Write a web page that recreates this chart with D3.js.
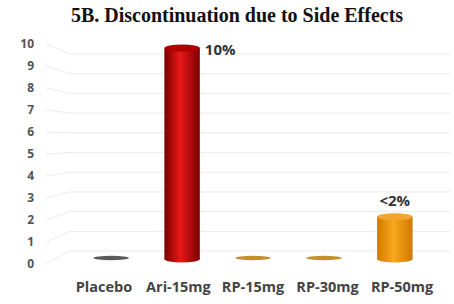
<!DOCTYPE html>
<html>
<head>
<meta charset="utf-8">
<script src="https://cdn.jsdelivr.net/npm/d3@7"></script>
<style>
  body { margin: 0; background: #fff; }
  svg { display: block; }
</style>
</head>
<body>
<div id="chart"></div>
<script>
// data
var groups = ["Placebo", "Ari-15mg", "RP-15mg", "RP-30mg", "RP-50mg"];
var rates = [0, 10, 0, 0, 2];
var barLabels = ["", "10%", "", "", "<2%"];
var yTicks = [0, 1, 2, 3, 4, 5, 6, 7, 8, 9, 10];

var w = 454, h = 304;

// colour sets per bar: edge, middle, top cap, flat marker
var palette = [
  {edge: "#555", mid: "#888", top: "#666", flat: "#5a5a5a"},
  {edge: "#7a0000", mid: "#e81818", top: "#b00000", flat: "#b00000"},
  {edge: "#b8860b", mid: "#f0b030", top: "#d9962a", flat: "#c49028"},
  {edge: "#b8860b", mid: "#f0b030", top: "#d9962a", flat: "#c49028"},
  {edge: "#d07a00", mid: "#f7a81c", top: "#f2a530", flat: "#d08a10"}
];

// one record per bar, built from the arrays above
var rows = groups.map(function(g, i) {
  return {group: g, value: rates[i], label: barLabels[i], idx: i};
});

var svg = d3.select("#chart").append("svg")
  .attr("width", w)
  .attr("height", h);

var defs = svg.append("defs");
palette.forEach(function(p, i) {
  var g = defs.append("linearGradient")
    .attr("id", "cyl" + i)
    .attr("x1", "0%").attr("x2", "100%")
    .attr("y1", "0%").attr("y2", "0%");
  g.append("stop").attr("offset", "0%").attr("stop-color", p.edge);
  g.append("stop").attr("offset", "45%").attr("stop-color", p.mid);
  g.append("stop").attr("offset", "100%").attr("stop-color", p.edge);
});

//title
svg.append("text")
  .attr("x", 237)
  .attr("y", 22)
  .attr("text-anchor", "middle")
  .attr("font-family", "Liberation Serif, serif")
  .attr("font-weight", "bold")
  .attr("font-size", "20px")
  .attr("fill", "#111")
  .text("5B. Discontinuation due to Side Effects");

// scales: label column, back wall, front (bars)
var yLab = d3.scaleLinear().domain([0, 10]).range([264, 44]);
var yBack = d3.scaleLinear().domain([0, 10]).range([251, 54]);
var yBar = d3.scaleLinear().domain([0, 10]).range([259, 48]);

var x = d3.scaleBand()
  .domain(groups)
  .range([58, 448])
  .padding(0.5);

// category labels sit on the front edge of the floor, spread a bit wider
var xLab = d3.scaleBand()
  .domain(groups)
  .range([48, 458])
  .padding(0.5);

// gridlines bending into the back wall
var line = d3.line();
svg.append("g").selectAll("path")
  .data(yTicks)
  .enter()
  .append("path")
  .attr("d", function(t) {
    return line([[46, yLab(t)], [70, yBack(t)], [450, yBack(t)]]);
  })
  .attr("fill", "none")
  .attr("stroke", "#ebebeb")
  .attr("stroke-width", 1);

// y tick labels
var yAxis = svg.append("g")
  .attr("transform", "translate(34,0)")
  .call(d3.axisLeft(yLab).tickValues(yTicks).tickSize(0).tickPadding(0));
yAxis.select(".domain").remove();
yAxis.selectAll("text")
  .attr("font-family", "Open Sans, sans-serif")
  .attr("font-weight", "bold")
  .attr("font-size", "12px")
  .attr("fill", "#555");

// x labels
var xAxis = svg.append("g")
  .attr("transform", "translate(0,282)")
  .call(d3.axisBottom(xLab).tickSize(0).tickPadding(0));
xAxis.select(".domain").remove();
xAxis.selectAll("text")
  .attr("font-family", "Open Sans, sans-serif")
  .attr("font-weight", "bold")
  .attr("font-size", "14.5px")
  .attr("fill", "#444");

// cylinders
var capRy = 3.5;
var solid = rows.filter(function(d) { return d.value > 0; });
var flat = rows.filter(function(d) { return d.value === 0; });

var bars = svg.append("g").selectAll("g")
  .data(solid)
  .enter()
  .append("g");

bars.append("rect")
  .attr("x", function(d) { return x(d.group); })
  .attr("y", function(d) { return yBar(d.value); })
  .attr("width", x.bandwidth())
  .attr("height", function(d) { return yBar(0) - yBar(d.value); })
  .attr("fill", function(d) { return "url(#cyl" + d.idx + ")"; });

bars.append("ellipse")
  .attr("cx", function(d) { return x(d.group) + x.bandwidth() / 2; })
  .attr("cy", yBar(0))
  .attr("rx", x.bandwidth() / 2)
  .attr("ry", capRy)
  .attr("fill", function(d) { return "url(#cyl" + d.idx + ")"; });

bars.append("ellipse")
  .attr("cx", function(d) { return x(d.group) + x.bandwidth() / 2; })
  .attr("cy", function(d) { return yBar(d.value); })
  .attr("rx", x.bandwidth() / 2)
  .attr("ry", capRy)
  .attr("fill", function(d) { return palette[d.idx].top; });

// zero-height bars show as flat discs
svg.append("g").selectAll("ellipse")
  .data(flat)
  .enter()
  .append("ellipse")
  .attr("cx", function(d) { return x(d.group) + x.bandwidth() / 2; })
  .attr("cy", yBar(0) - 1)
  .attr("rx", x.bandwidth() / 2)
  .attr("ry", 2.2)
  .attr("fill", function(d) { return palette[d.idx].flat; });

// value labels
svg.append("g").selectAll("text")
  .data(solid)
  .enter()
  .append("text")
  .text(function(d) { return d.label; })
  .attr("x", function(d) {
    return d.idx === 1 ? x(d.group) + x.bandwidth() + 5 : x(d.group) + x.bandwidth() / 2;
  })
  .attr("y", function(d) {
    return d.idx === 1 ? yBar(d.value) + 7 : yBar(d.value) - 11;
  })
  .attr("text-anchor", function(d) { return d.idx === 1 ? "start" : "middle"; })
  .attr("font-family", "Open Sans, sans-serif")
  .attr("font-weight", "bold")
  .attr("font-size", "15px")
  .attr("fill", "#333");
</script>
</body>
</html>
